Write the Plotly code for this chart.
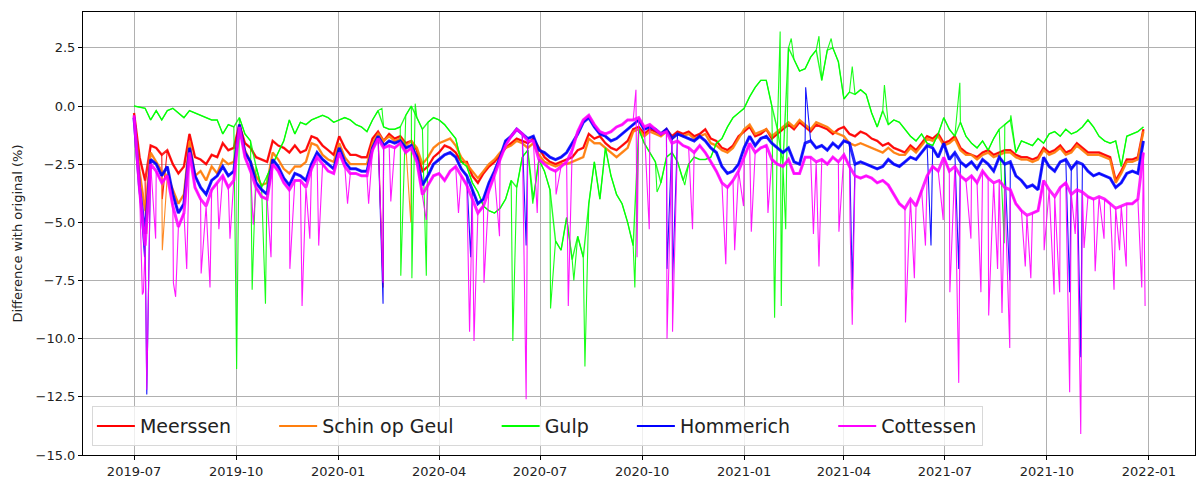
import pandas as pd
import plotly.graph_objects as go

START = pd.Timestamp("2019-07-01")
STEP = 5  # days between base readings

names = ["Meerssen", "Schin op Geul", "Gulp", "Hommerich", "Cottessen"]
colors = ["#ff0000", "#ff7f0e", "#00ff00", "#0000ff", "#ff00ff"]
band_widths = [2.4, 2.4, 1.4, 3, 3]

# base readings, one row per ~30 days (6 values, 5 days apart)
meerssen = [
    -0.3, -2.2, -3.2, -1.7, -1.8, -2.1,
    -1.9, -2.5, -2.9, -2.6, -1.2, -2.2,
    -2.3, -2.5, -2.1, -2.2, -1.6, -1.9,
    -1.8, -0.8, -1.6, -1.8, -2.2, -2.3,
    -2.4, -1.5, -1.7, -1.8, -2.0, -1.7,
    -2.0, -1.9, -1.3, -1.4, -1.7, -1.9,
    -2.1, -1.3, -1.8, -2.1, -2.1, -2.2,
    -2.2, -1.4, -1.1, -1.5, -1.2, -1.4,
    -1.3, -1.6, -1.5, -1.9, -2.8, -2.6,
    -2.2, -2.0, -1.7, -1.8, -2.0, -2.4,
    -2.4, -3.0, -3.3, -2.9, -2.6, -2.4,
    -2.1, -1.8, -1.6, -1.4, -1.5, -1.6,
    -1.4, -1.8, -2.2, -2.4, -2.5, -2.4,
    -2.3, -2.2, -1.9, -1.8, -1.2, -1.4,
    -1.3, -1.6, -1.8, -1.9, -1.7, -1.5,
    -1.0, -0.9, -1.2, -1.0, -1.1, -1.2,
    -1.0, -1.3, -1.1, -1.2, -1.1, -1.3,
    -1.2, -1.0, -1.4, -1.5, -1.8, -1.9,
    -1.7, -1.3, -1.1, -0.9, -1.3, -1.2,
    -1.0, -1.4, -1.2, -1.0, -0.8, -1.0,
    -0.7, -0.9, -1.1, -0.8, -0.9, -1.0,
    -1.2, -1.0, -0.9, -1.2, -1.3, -1.1,
    -1.2, -1.4, -1.5, -1.7, -1.6, -1.8,
    -1.9, -2.0, -1.7, -1.9, -1.6, -1.3,
    -1.4, -1.2, -1.6, -1.5, -1.3, -1.8,
    -2.0, -2.1, -2.2, -2.0, -1.9, -2.1,
    -2.0, -1.9, -1.9, -2.1, -2.2, -2.2,
    -2.3, -2.2, -1.8, -2.0, -1.9, -1.7,
    -2.0, -1.9, -1.6, -1.8, -2.0, -2.0,
    -2.0, -2.1, -2.2, -3.2, -2.8, -2.3,
    -2.3, -2.2, -1.0,
]
schin = [
    -0.5, -2.8, -4.5, -2.0, -2.4, -2.8,
    -3.0, -3.6, -4.2, -3.8, -1.5, -3.0,
    -2.8, -3.2, -2.6, -2.9, -2.3, -2.5,
    -2.4, -1.0, -1.9, -2.4, -3.0, -3.4,
    -3.3, -2.0, -2.3, -2.7, -2.9, -2.6,
    -2.6, -2.4, -1.6, -1.7, -2.1, -2.3,
    -2.4, -1.6, -2.2, -2.5, -2.5, -2.5,
    -2.5, -1.6, -1.2, -1.5, -1.3, -1.5,
    -1.4, -1.7, -1.5, -1.8, -2.5, -2.2,
    -1.8, -1.6, -1.5, -1.4, -1.7, -2.2,
    -2.5, -2.8, -3.1, -2.8, -2.5, -2.3,
    -2.0, -1.8, -1.7, -1.5, -1.6, -1.8,
    -1.6, -2.1, -2.4, -2.5, -2.6, -2.5,
    -2.5, -2.4, -2.3, -2.2, -1.4, -1.6,
    -1.6, -1.8, -2.0, -2.2, -2.0, -1.8,
    -1.1, -1.0, -1.3, -1.1, -1.2, -1.3,
    -1.1, -1.4, -1.2, -1.3, -1.2, -1.4,
    -1.3, -1.2, -1.6, -1.7, -1.9, -2.0,
    -1.8, -1.4, -1.0, -0.8, -1.2, -1.1,
    -1.0, -1.3, -1.1, -0.9, -0.7, -0.9,
    -0.6, -0.8, -1.0, -0.7, -0.8, -0.9,
    -1.1, -1.2, -1.3, -1.6, -1.7, -1.6,
    -1.7, -1.8, -1.9, -2.0, -1.8, -2.0,
    -2.1, -2.1, -1.8, -2.0, -1.7, -1.4,
    -1.5, -1.3, -1.7, -1.6, -1.4, -1.9,
    -2.1, -2.1, -2.3, -2.1, -2.0, -2.2,
    -2.1, -2.0, -2.0, -2.2, -2.3, -2.3,
    -2.4, -2.3, -1.9, -2.1, -2.0, -1.8,
    -2.1, -2.0, -1.7, -1.9, -2.1, -2.1,
    -2.1, -2.2, -2.3, -3.3, -2.9, -2.4,
    -2.4, -2.3, -1.1,
]
gulp = [
    0.0, -0.05, -0.1, -0.6, -0.2, -0.6,
    -0.2, -0.1, -0.3, -0.5, -0.2, -0.3,
    -0.4, -0.5, -0.6, -0.6, -1.2, -0.8,
    -0.9, -0.5, -1.2, -1.5, -2.6, -3.5,
    -3.0, -2.5, -2.0, -1.5, -0.6, -1.2,
    -0.7, -0.8, -0.6, -0.5, -0.4, -0.5,
    -0.7, -0.6, -0.5, -0.6, -0.8, -0.9,
    -1.1, -0.6, -0.2, -0.9, -1.0, -1.0,
    -0.9, -0.4, 0.0, -0.5, -1.0, -0.7,
    -0.5, -0.6, -0.8, -1.1, -1.4, -2.4,
    -2.6, -3.3, -3.7, -4.3, -4.5, -4.6,
    -4.4, -4.0, -3.2, -3.5, -2.2, -1.9,
    -4.0, -2.3, -2.8, -3.6, -5.8, -6.2,
    -4.8, -6.6, -5.6, -6.5, -4.2, -2.4,
    -4.0, -1.8, -3.0, -3.8, -4.2, -5.0,
    -6.0, -1.0, -1.6, -2.0, -2.4, -3.3,
    -2.2, -2.0, -2.4, -3.2, -2.5, -2.2,
    -2.3, -2.3, -2.2, -1.6, -1.4, -0.9,
    -0.5, -0.3, -0.1, 0.4, 0.8, 1.1,
    1.1, 0.0, -1.0, -2.5, 2.5, 2.0,
    1.5, 1.6, 2.1, 2.4, 1.1, 2.4,
    2.5, 1.9, 0.3, 0.6, 0.5, 0.7,
    0.5, -0.3, -0.9, -0.2, -0.8, -0.6,
    -0.7, -1.0, -1.3, -1.5, -1.2, -1.6,
    -1.7, -1.2, -0.5, -1.0, -1.3, -0.7,
    -1.3, -1.6, -1.8, -1.5, -1.9, -1.4,
    -1.0, -0.8, -0.6, -2.0, -1.5, -1.6,
    -1.7, -1.4, -1.6, -1.2, -1.1, -1.3,
    -1.0, -1.2, -1.1, -0.9, -0.6, -0.9,
    -1.3, -1.5, -1.6, -1.5, -2.6, -1.3,
    -1.2, -1.1, -0.9,
]
hommerich = [
    -0.5, -3.5, -5.5, -2.3, -2.5, -3.0,
    -2.6, -3.8, -4.6, -4.2, -1.8, -3.0,
    -3.5, -3.8, -3.2, -3.0, -2.6, -3.0,
    -2.8, -0.8, -2.0, -2.4, -3.3, -3.6,
    -3.8, -2.3, -2.6, -3.1, -3.4, -2.9,
    -3.0, -3.2, -2.5, -2.0, -2.3, -2.5,
    -2.7, -1.8, -2.4, -2.7, -2.7, -2.8,
    -2.8, -1.8, -1.3, -1.7, -1.5, -1.6,
    -1.5, -1.8, -1.7, -2.2, -3.4, -3.0,
    -2.5, -2.3, -2.1, -2.0, -2.2, -2.7,
    -3.0, -3.6, -4.2, -4.0, -3.3, -2.8,
    -2.2, -1.5, -1.3, -1.0, -1.2, -1.4,
    -1.3, -1.9, -2.0, -2.2, -2.3, -2.2,
    -2.0, -1.6, -1.2, -0.7, -0.5, -0.9,
    -1.2, -1.3, -1.5, -1.4, -1.2, -1.0,
    -0.8, -0.6, -1.0, -0.9, -1.0, -1.2,
    -1.0, -1.4, -1.2, -1.3, -1.4, -1.5,
    -1.3, -1.5, -1.8, -2.0, -2.6, -2.9,
    -2.8, -2.5, -1.8, -1.3, -1.7, -1.4,
    -1.3, -1.6, -1.8, -2.0, -1.8, -2.4,
    -2.5, -1.6, -1.5, -1.8, -1.7, -1.9,
    -1.6, -1.8, -1.5, -1.6, -2.5, -2.4,
    -2.5, -2.6, -2.7, -2.6, -2.3, -2.5,
    -2.6, -2.4, -2.2, -2.3, -2.0, -1.7,
    -1.8, -2.2, -1.6, -2.3, -2.0, -2.4,
    -2.6, -2.4, -2.7, -2.3, -2.5, -2.8,
    -2.2, -2.5, -2.4, -3.0, -3.2, -3.5,
    -3.4, -3.6, -2.2, -2.6, -2.8, -2.4,
    -2.3, -2.7, -2.4, -2.5, -2.8, -3.0,
    -2.9, -3.0, -3.1, -3.5, -3.3, -2.9,
    -2.8, -2.9, -1.5,
]
cottessen = [
    -0.4, -3.6, -6.0, -2.5, -2.8, -3.3,
    -3.0, -4.3, -5.2, -4.6, -2.0, -3.5,
    -4.0, -4.3, -3.6, -3.3, -3.0, -3.5,
    -3.2, -0.9, -2.2, -2.8, -3.5, -3.9,
    -4.0, -2.5, -2.8, -3.3, -3.6, -3.2,
    -3.2, -3.5, -2.7, -2.2, -2.5, -2.8,
    -2.9, -2.0, -2.6, -2.9, -2.9, -3.0,
    -3.0, -1.9, -1.4, -1.8, -1.7, -1.8,
    -1.6, -2.0, -1.8, -2.4, -3.8, -3.4,
    -3.0, -2.9, -3.2, -2.8, -2.6, -3.0,
    -3.4, -4.0, -4.6, -4.3, -3.6, -3.0,
    -2.3, -1.7, -1.3, -1.0, -1.2, -1.5,
    -1.5, -2.3, -2.5, -2.7, -2.8, -2.6,
    -2.4, -1.9, -1.1, -0.6, -0.4, -0.8,
    -1.1, -1.2, -1.1, -0.9, -0.8, -0.6,
    -0.6, -0.5, -0.9, -0.8, -1.0, -1.2,
    -1.1, -1.6, -1.5, -1.7, -1.8, -2.0,
    -1.7, -2.0, -2.4, -2.8, -3.3, -3.5,
    -3.2, -2.8, -2.2, -1.6, -2.0, -1.8,
    -1.7, -2.3, -2.5, -2.6, -2.3, -2.9,
    -2.9, -2.2, -2.2, -2.4, -2.3, -2.5,
    -2.2, -2.4, -2.1, -2.6, -3.0, -3.1,
    -3.0, -3.1, -3.3, -3.2, -3.4, -3.8,
    -4.2, -4.4, -4.0, -4.3, -3.6, -3.0,
    -2.6, -2.8, -2.2, -2.8, -2.6, -3.0,
    -3.2, -3.0, -3.3, -2.8, -3.1, -3.3,
    -3.2, -3.5, -3.6, -4.2, -4.5, -4.7,
    -4.6, -4.5, -3.2, -3.6, -3.9, -3.5,
    -3.3, -3.8, -3.6, -3.7, -3.9, -4.0,
    -3.9, -4.0, -4.2, -4.4, -4.3, -4.2,
    -4.2, -4.0, -2.0,
]

# short excursions: (day since 2019-07-01, value)
meerssen_spikes = [(10, -5.0), (25, -4.0), (224, -7.8)]
schin_spikes = [(11, -5.5), (25, -6.2), (249, -5.0)]
gulp_spikes = [
    (92, -11.3), (106, -7.9), (118, -8.5), (223, -0.1), (240, -7.3), (250, -7.4),
    (253, 0.1), (263, -7.3), (341, -10.1), (359, -4.2), (375, -8.7), (396, -7.5),
    (406, -11.2), (451, -7.8), (471, -3.7), (496, -3.4), (577, -9.1), (582, 3.2),
    (583, -8.6), (587, -5.3), (592, 2.9), (617, 3.0), (628, 2.9), (647, 1.7),
    (676, 0.9), (744, 1.0), (784, -5.9), (790, -0.4),
]
hommerich_spikes = [
    (9, -6.5), (11, -12.4), (224, -8.5), (303, -6.5), (353, -6.0), (480, -7.0),
    (485, -7.5), (605, 0.8), (647, -7.9), (718, -6.0), (743, -7.0), (789, -7.5),
    (843, -8.0), (853, -10.8),
]
cottessen_spikes = [
    (7, -8.1), (8, -8.0), (11, -12.2), (19, -5.7), (35, -7.6), (37, -8.2),
    (47, -7.0), (60, -7.2), (68, -7.8), (76, -5.3), (86, -5.7), (107, -5.1),
    (123, -6.5), (140, -7.0), (151, -8.6), (158, -5.7), (166, -6.0), (192, -4.2),
    (211, -4.2), (224, -7.6), (231, -4.1), (263, -4.9), (292, -4.6), (302, -9.7),
    (306, -10.1), (315, -7.6), (329, -5.6), (353, -12.6), (363, -4.6), (380, -3.8),
    (391, -8.6), (452, 0.7), (453, -6.5), (464, -5.3), (480, -10.0), (485, -9.7),
    (503, -5.3), (533, -6.8), (541, -6.2), (549, -4.3), (556, -5.4), (571, -4.6),
    (612, -5.5), (617, -6.9), (635, -5.4), (645, -5.0), (647, -9.4), (695, -9.3),
    (703, -7.4), (713, -6.0), (729, -4.9), (735, -8.0), (743, -11.9), (754, -5.7),
    (763, -8.0), (770, -9.0), (778, -7.0), (782, -8.9), (789, -10.4), (803, -6.9),
    (808, -7.4), (820, -6.2), (829, -8.1), (834, -8.0), (843, -12.3), (848, -5.5),
    (853, -14.1), (856, -6.1), (866, -7.1), (874, -5.7), (883, -7.9), (888, -6.2),
    (894, -6.9), (908, -7.8), (911, -8.6),
]

y_ticks = [-15.0, -12.5, -10.0, -7.5, -5.0, -2.5, 0.0, 2.5]
x_ticks = ["2019-07", "2019-10", "2020-01", "2020-04", "2020-07",
           "2020-10", "2021-01", "2021-04", "2021-07", "2021-10", "2022-01"]


def to_dates(days):
    return [START + pd.Timedelta(days=d) for d in days]


def build_series(base, spikes):
    pts = [(i * STEP, v) for i, v in enumerate(base)]
    pts += [(d + 0.5, v) for d, v in spikes]
    pts.sort(key=lambda p: p[0])
    return to_dates([d for d, _ in pts]), [v for _, v in pts]


series = [
    (meerssen, meerssen_spikes),
    (schin, schin_spikes),
    (gulp, gulp_spikes),
    (hommerich, hommerich_spikes),
    (cottessen, cottessen_spikes),
]

fig = go.Figure()
for name, color, bw, (base, spikes) in zip(names, colors, band_widths, series):
    # the slow part drawn heavier (the hourly band), the spikes as thin lines
    fig.add_trace(go.Scatter(
        x=to_dates([i * STEP for i in range(len(base))]), y=base,
        mode="lines", legendgroup=name, showlegend=False, hoverinfo="skip",
        line=dict(color=color, width=bw), opacity=0.85,
    ))
    x, y = build_series(base, spikes)
    fig.add_trace(go.Scatter(
        x=x, y=y, mode="lines", name=name, legendgroup=name, showlegend=False,
        line=dict(color=color, width=1.1), opacity=0.9,
    ))

# legend entries (padded so the spacing matches matplotlib's columns)
pad = "\u00a0" * 6 + "\u200a"
for i, (name, color) in enumerate(zip(names, colors)):
    label = name if i == len(names) - 1 else name + pad
    fig.add_trace(go.Scatter(
        x=[None], y=[None], mode="lines", name=label, legendgroup=name,
        line=dict(color=color, width=2),
    ))

axis_style = dict(
    showgrid=True, gridcolor="#b0b0b0", gridwidth=0.8,
    showline=True, linecolor="black", linewidth=1, mirror=True,
    ticks="outside", ticklen=4, tickcolor="black", zeroline=False,
    tickfont=dict(size=13, color="#222222"),
)

fig.update_layout(
    width=1196, height=480,
    margin=dict(l=83, r=1, t=12, b=25),
    plot_bgcolor="white", paper_bgcolor="white",
    font=dict(family="DejaVu Sans", size=12, color="#222222"),
    legend=dict(
        orientation="h", x=0.008, y=0.02, xanchor="left", yanchor="bottom",
        font=dict(size=19), bgcolor="rgba(255,255,255,0.8)",
        bordercolor="#d8d8d8", borderwidth=1, itemwidth=38,
    ),
)
fig.update_xaxes(
    range=[START + pd.Timedelta(days=-46), START + pd.Timedelta(days=956.5)],
    tickvals=[pd.Timestamp(t + "-01") for t in x_ticks], ticktext=x_ticks,
    **axis_style,
)
fig.update_yaxes(
    range=[-15.0, 4.04],
    tickvals=y_ticks, ticktext=[f"{v:.1f}".replace("-", "\u2212") for v in y_ticks],
    title=dict(text="Difference with original (%)", font=dict(size=13), standoff=10),
    **axis_style,
)

fig.write_html(
    "out.html",
    config={"displayModeBar": False},
    post_script="document.body.style.margin='0px';",
)
